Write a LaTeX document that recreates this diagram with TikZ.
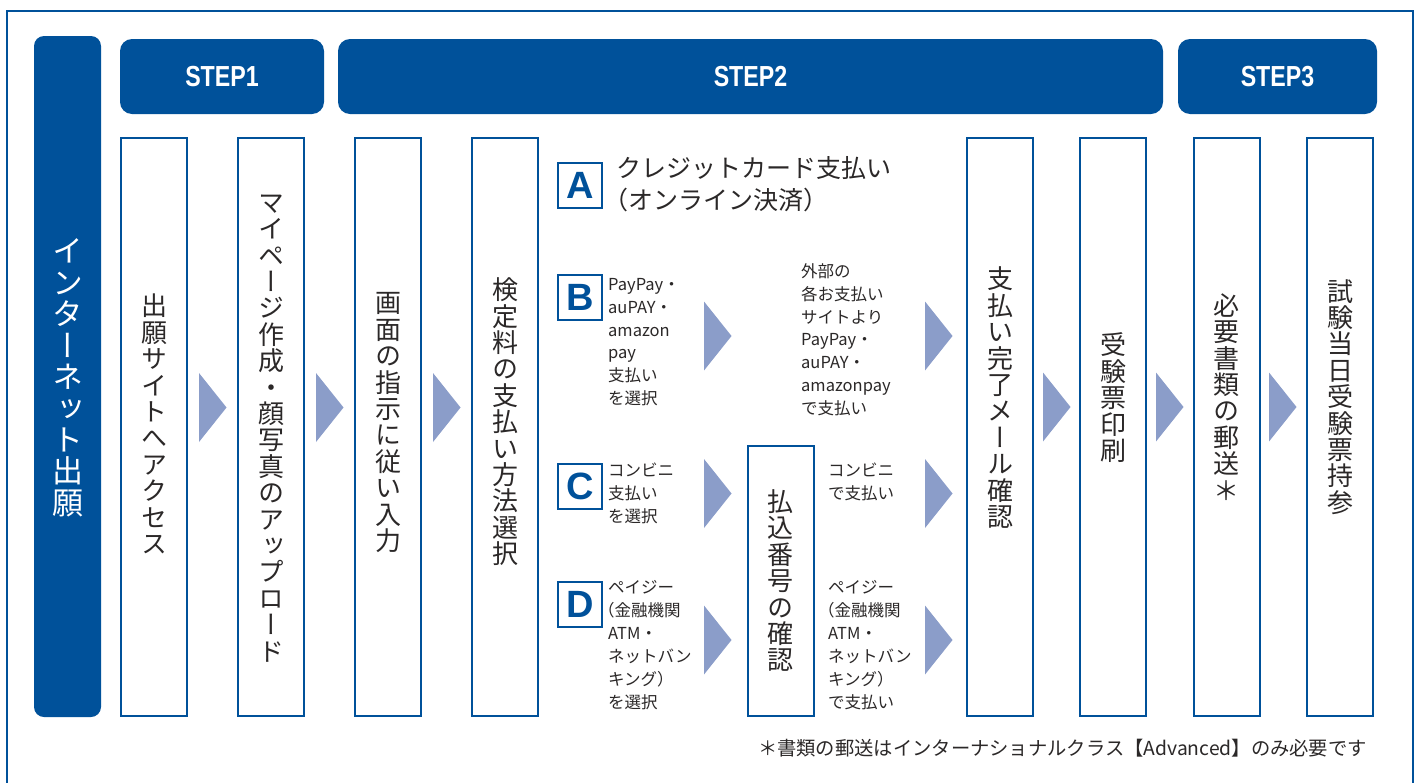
\documentclass[tikz,border=0pt]{standalone}
\usepackage{fontspec}
\setmainfont{Noto Sans CJK JP}
\newfontfamily\vjp[RawFeature=+vert]{Noto Sans CJK JP}
\newfontfamily\stepfont[FakeStretch=0.8]{Liberation Sans}
\newfontfamily\letfont{Liberation Sans}
\definecolor{hblue}{RGB}{0,81,154}
\definecolor{arrowc}{RGB}{139,157,201}
\definecolor{tgray}{RGB}{43,40,40}
\newcommand\jst{\rule{0pt}{0.88em}}
\makeatletter
\newcommand\vjt[1]{\vbox{\offinterlineskip\vj@loop#1\@nil}}
\def\vj@loop#1{\ifx\@nil#1\else\hbox to 1em{\hss\vrule height .88em depth .135em width 0pt\relax#1\hss}\expandafter\vj@loop\fi}
\makeatother
\newcommand\tri[2]{\fill[arrowc] (#1,#2-34.5) -- (#1+27.5,#2) -- (#1,#2+34.5) -- cycle;}
\begin{document}
\begin{tikzpicture}[x=1pt,y=-1pt,
  hdr/.style={fill=hblue, rounded corners=12pt, text=white, inner sep=0pt,
    minimum height=75pt, font=\stepfont\bfseries\fontsize{29}{29}\selectfont},
  stepbox/.style={draw=hblue, line width=2pt, fill=white, inner sep=0pt,
    minimum width=66pt, minimum height=578pt},
  vtxt/.style={inner sep=0pt, text=tgray, font=\vjp\fontsize{26}{26}\selectfont},
  vtxtw/.style={inner sep=0pt, text=white, font=\vjp\fontsize{31}{31}\selectfont},
  letbox/.style={draw=hblue, line width=2pt, fill=white, inner sep=0pt,
    minimum width=44pt, minimum height=45pt, text=hblue,
    font=\letfont\bfseries\fontsize{38}{38}\selectfont},
  htxt/.style={anchor=north west, inner sep=0pt, align=left, text=tgray,
    font=\fontsize{16.5}{22.8}\selectfont},
  htxtd/.style={htxt, font=\fontsize{16.5}{23}\selectfont}
]
\useasboundingbox (0,0) rectangle (1419,782);
\clip (0,0) rectangle (1419,782);
\fill[white] (0,0) rectangle (1419,782);
% outer frame
\draw[hblue, line width=2pt] (7,800) -- (7,11) -- (1413,11) -- (1413,800);
% left column
\node (col) [fill=hblue, rounded corners=10pt, inner sep=0pt, minimum width=67pt, minimum height=681pt] at (67.5,376.5) {};
\node (t0) [vtxtw] at (67.5,377) {\vjt{インターネット出願}};
% headers
\node (s1) [hdr, minimum width=204pt] at (222,76.5) {STEP1};
\node (s2) [hdr, minimum width=825pt] at (750.5,76.5) {STEP2};
\node (s3) [hdr, minimum width=199pt] at (1277.5,76.5) {STEP3};
% step boxes
\node (b1) [stepbox] at (154,427) {};
\node (b2) [stepbox] at (271,427) {};
\node (b3) [stepbox] at (388,427) {};
\node (b4) [stepbox] at (505,427) {};
\node (b5) [stepbox] at (1000,427) {};
\node (b6) [stepbox] at (1113,427) {};
\node (b7) [stepbox] at (1226.5,427) {};
\node (b8) [stepbox] at (1340,427) {};
\node (bk) [stepbox, minimum height=270pt] at (780.5,581) {};
% vertical texts
\node (t1) [vtxt] at (154,425) {\vjt{出願サイトへアクセス}};
\node (t2) [vtxt] at (271,427) {\vjt{マイページ作成・顔写真のアップロード}};
\node (t3) [vtxt] at (388,422) {\vjt{画面の指示に従い入力}};
\node (t4) [vtxt] at (505,422) {\vjt{検定料の支払い方法選択}};
\node (tk) [vtxt] at (780.5,581) {\vjt{払込番号の確認}};
\node (t5) [vtxt] at (1000,398) {\vjt{支払い完了メール確認}};
\node (t6) [vtxt] at (1113,398) {\vjt{受験票印刷}};
\node (t7) [vtxt] at (1226.5,398) {\vjt{必要書類の郵送＊}};
\node (t8) [vtxt] at (1340,397) {\vjt{試験当日受験票持参}};
% arrows main row
\tri{199}{407.5}
\tri{316}{407.5}
\tri{433}{407.5}
\tri{1043}{407}
\tri{1156}{407}
\tri{1269}{407}
% payment arrows
\tri{704}{336}
\tri{925}{336}
\tri{704}{493.5}
\tri{925}{493.5}
\tri{704}{640}
\tri{925}{640}
% letter boxes
\node (la) [letbox] at (580,185.5) {A};
\node (lb) [letbox] at (580,297.5) {B};
\node (lc) [letbox] at (580,486.5) {C};
\node (ld) [letbox] at (580,604) {D};
% A text
\node (ta) [htxt, font=\fontsize{25}{32}\selectfont] at (616,155.5) {\jst クレジットカード支払い\\\hspace*{-13pt}（オンライン決済）};
% B texts
\node (tb1) [htxt] at (608,275.75) {\jst PayPay・\\auPAY・\\amazon\\pay\\支払い\\を選択};
\node (tb2) [htxt] at (801,262.75) {\jst 外部の\\各お支払い\\サイトより\\PayPay・\\auPAY・\\amazonpay\\で支払い};
% C texts
\node (tc1) [htxtd] at (608,461.75) {\jst コンビニ\\支払い\\を選択};
\node (tc2) [htxtd] at (828,461.75) {\jst コンビニ\\で支払い};
% D texts
\node (td1) [htxtd] at (608,578.75) {\jst ペイジー\\\hspace*{-10pt}（金融機関\\ATM・\\ネットバン\\キング）\\を選択};
\node (td2) [htxtd] at (828,578.75) {\jst ペイジー\\\hspace*{-10pt}（金融機関\\ATM・\\ネットバン\\キング）\\で支払い};
% footnote
\node (fn) [anchor=north east, inner sep=0pt, text=tgray, font=\fontsize{19.3}{19.3}\selectfont] at (1367,738.35) {\jst ＊書類の郵送はインターナショナルクラス【Advanced】のみ必要です};
\end{tikzpicture}
\end{document}
